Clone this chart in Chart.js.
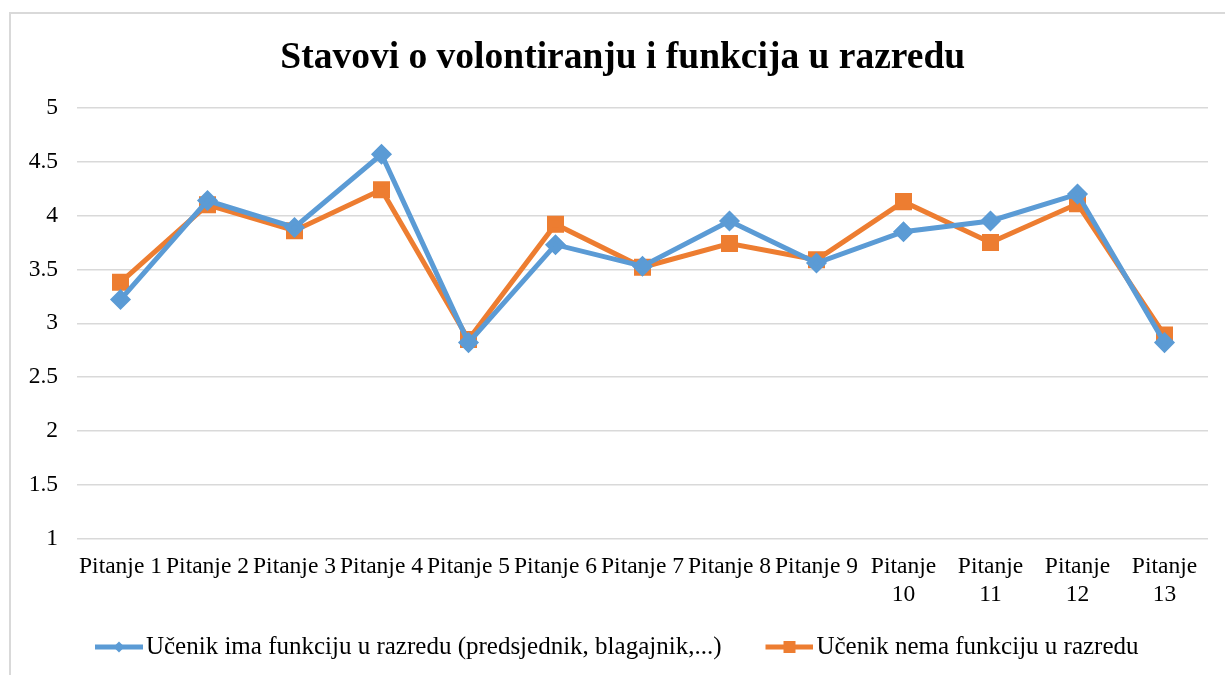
<!DOCTYPE html>
<html>
<head>
<meta charset="utf-8">
<script src="https://cdn.jsdelivr.net/npm/chart.js@4.4.0/dist/chart.umd.min.js"></script>
<style>
  body { margin: 0; background: #fff; }
  #frame { position: absolute; left: 9px; top: 12px; width: 1300px; height: 700px;
           border-top: 2px solid #d9d9d9; border-left: 2px solid #d9d9d9; }
  #wrap { position: absolute; left: 0; top: 0; width: 1225px; height: 675px; }
</style>
</head>
<body>
<div id="frame"></div>
<div id="wrap"><canvas id="myChart"></canvas></div>
<script>
var categories = ['Pitanje 1', 'Pitanje 2', 'Pitanje 3', 'Pitanje 4', 'Pitanje 5', 'Pitanje 6', 'Pitanje 7',
                  'Pitanje 8', 'Pitanje 9', ['Pitanje', '10'], ['Pitanje', '11'], ['Pitanje', '12'], ['Pitanje', '13']];
var imaFunkciju = [3.22, 4.14, 3.89, 4.57, 2.82, 3.73, 3.53, 3.95, 3.56, 3.85, 3.95, 4.20, 2.82];
var nemaFunkciju = [3.38, 4.10, 3.86, 4.24, 2.85, 3.92, 3.52, 3.74, 3.59, 4.13, 3.75, 4.11, 2.89];
var seriesNames = ['Učenik ima funkciju u razredu (predsjednik, blagajnik,...)', 'Učenik nema funkciju u razredu'];

var blue = '#5b9bd5', orange = '#ed7d31';
var serif = "'Liberation Serif', 'Times New Roman', serif";

// line + marker pictures for the legend (blank space on the left works as the gap)
function legendMark(color, shape) {
    var c = document.createElement('canvas');
    c.width = 83; c.height = 14;
    var g = c.getContext('2d');
    var x0 = 83 - 48;
    g.strokeStyle = color; g.lineWidth = 5;
    g.beginPath(); g.moveTo(x0, 7); g.lineTo(83, 7); g.stroke();
    g.fillStyle = color;
    g.beginPath();
    if (shape == 'diamond') {
        g.moveTo(x0 + 24, 1.5); g.lineTo(x0 + 29.5, 7); g.lineTo(x0 + 24, 12.5); g.lineTo(x0 + 18.5, 7);
    } else {
        g.rect(x0 + 18, 1, 12, 12);
    }
    g.fill();
    return c;
}
var marks = [legendMark(blue, 'diamond'), legendMark(orange, 'square')];

var ctx = document.getElementById('myChart').getContext('2d');
var myChart = new Chart(ctx, {
    type: 'line',
    data: {
        labels: categories,
        datasets: [{
            label: seriesNames[0],
            data: imaFunkciju,
            borderColor: blue,
            backgroundColor: blue,
            borderWidth: 5,
            pointStyle: 'rectRot',
            pointRadius: 7,
            pointHoverRadius: 7,
            tension: 0
        }, {
            label: seriesNames[1],
            data: nemaFunkciju,
            borderColor: orange,
            backgroundColor: orange,
            borderWidth: 5,
            pointStyle: 'rect',
            pointRadius: 8.5,
            pointHoverRadius: 8.5,
            tension: 0
        }]
    },
    options: {
        responsive: true,
        maintainAspectRatio: false,
        animation: false,
        layout: { padding: { left: 0, right: 17, top: 22, bottom: 5.5 } },
        plugins: {
            title: {
                display: true,
                text: '\u00a0\u00a0\u00a0\u00a0Stavovi o volontiranju i funkcija u razredu',
                color: '#000',
                font: { family: serif, size: 37.5, weight: 'bold' },
                padding: { top: 14, bottom: 27 }
            },
            legend: {
                position: 'bottom',
                labels: {
                    usePointStyle: true,
                    pointStyleWidth: 64,
                    padding: 18.5,
                    color: '#000',
                    font: { family: serif, size: 25 },
                    generateLabels: function(chart) {
                        return chart.data.datasets.map(function(ds, i) {
                            return {
                                text: ds.label,
                                pointStyle: marks[i],
                                fillStyle: ds.borderColor,
                                strokeStyle: ds.borderColor,
                                lineWidth: 0,
                                fontColor: '#000',
                                datasetIndex: i
                            };
                        });
                    }
                }
            },
            tooltip: { enabled: false }
        },
        scales: {
            x: {
                offset: true,
                afterFit: function(scale) { scale.height = 77.5; },
                grid: { display: false },
                border: { display: false },
                ticks: {
                    autoSkip: false,
                    maxRotation: 0,
                    minRotation: 0,
                    padding: 6,
                    color: '#000',
                    font: { family: serif, size: 23.5, lineHeight: 1.2 }
                }
            },
            y: {
                min: 1,
                max: 5,
                afterFit: function(scale) { scale.width = 77; },
                grid: { color: '#d9d9d9', lineWidth: 1.5, drawTicks: false },
                border: { display: false },
                ticks: {
                    stepSize: 0.5,
                    padding: 19,
                    color: '#000',
                    font: { family: serif, size: 23.5 },
                    callback: function(value) { return value; }
                }
            }
        }
    }
});
</script>
</body>
</html>
